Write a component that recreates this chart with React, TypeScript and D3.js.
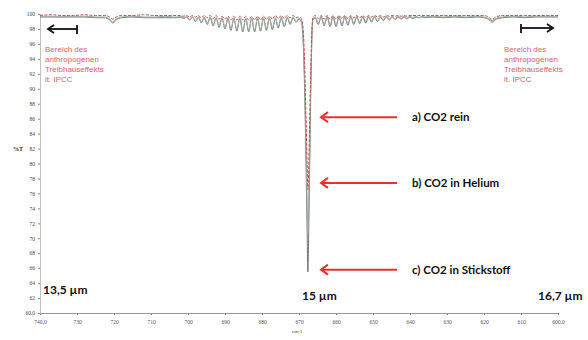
import React, { useRef, useEffect } from "react";
import * as d3 from "d3";

// wavenumber grid (cm-1): flat part, R-branch lines, Q dip, P-branch lines, flat part
const wavenumbers = [
  740, 737, 734, 731, 728, 725, 722.5, 721.2, 720.3, 719.4, 718, 715, 712, 709, 706, 704, 702.8,
  702.0, 701.2, 700.4, 699.6, 698.8, 698.0, 697.2, 696.4, 695.6, 694.8, 694.0, 693.2, 692.4, 691.6,
  690.8, 690.0, 689.2, 688.4, 687.6, 686.8, 686.0, 685.2, 684.4, 683.6, 682.8, 682.0, 681.2, 680.4,
  679.6, 678.8, 678.0, 677.2, 676.4, 675.6, 674.8, 674.0, 673.2, 672.4, 671.6, 670.8, 670.0,
  669.4, 669.0, 668.7, 668.4, 668.1, 667.8, 667.6, 667.4, 667.1, 666.8, 666.5, 666.2,
  665.6, 664.8, 664.0, 663.2, 662.4, 661.6, 660.8, 660.0, 659.2, 658.4, 657.6, 656.8, 656.0, 655.2,
  654.4, 653.6, 652.8, 652.0, 651.2, 650.4, 649.6, 648.8, 648.0, 647.2, 646.4, 645.6, 644.8, 644.0,
  643.2, 642.4, 641.6, 640.8, 640.0, 639.2, 638.4, 637.6, 636.8, 636.0,
  634, 631, 628, 625, 622, 620, 618.8, 617.8, 616.8, 615, 612, 609, 606, 603, 600,
];

// a) CO2 rein (%T)
const co2Rein = [
  99.8, 99.9, 99.8, 99.8, 99.9, 99.8, 99.8, 99.6, 99.3, 99.6, 99.8, 99.8, 99.9, 99.8, 99.8, 99.8, 99.8,
  99.8, 99.7, 99.8, 99.6, 99.8, 99.6, 99.8, 99.5, 99.8, 99.5, 99.8, 99.4, 99.8, 99.3,
  99.7, 99.3, 99.7, 99.2, 99.7, 99.2, 99.7, 99.2, 99.7, 99.2, 99.7, 99.2, 99.7, 99.2,
  99.7, 99.3, 99.7, 99.3, 99.8, 99.4, 99.8, 99.4, 99.8, 99.5, 99.8, 99.5, 99.6,
  99.4, 98.6, 96.5, 92.0, 86.0, 80.0, 76.5, 79.0, 86.0, 93.0, 98.0, 99.6,
  99.8, 99.4, 99.8, 99.3, 99.8, 99.3, 99.8, 99.3, 99.8, 99.4, 99.8, 99.4, 99.8, 99.5,
  99.8, 99.5, 99.8, 99.5, 99.8, 99.6, 99.8, 99.6, 99.8, 99.6, 99.8, 99.7, 99.8, 99.7,
  99.8, 99.7, 99.8, 99.7, 99.8, 99.8, 99.8, 99.8, 99.8, 99.8,
  99.8, 99.8, 99.8, 99.8, 99.8, 99.8, 99.6, 99.3, 99.6, 99.8, 99.8, 99.8, 99.8, 99.8, 99.8,
];

// b) CO2 in Helium (%T)
const co2Helium = [
  99.7, 99.7, 99.6, 99.7, 99.7, 99.6, 99.6, 99.3, 98.9, 99.3, 99.6, 99.7, 99.6, 99.6, 99.7, 99.6, 99.6,
  99.7, 99.5, 99.6, 99.3, 99.6, 99.1, 99.6, 98.9, 99.6, 98.8, 99.6, 98.6, 99.5, 98.4,
  99.5, 98.2, 99.5, 98.0, 99.5, 97.9, 99.5, 97.8, 99.5, 97.8, 99.5, 97.8, 99.5, 97.9,
  99.5, 98.0, 99.5, 98.1, 99.5, 98.3, 99.6, 98.5, 99.6, 98.8, 99.6, 99.0, 99.4,
  99.1, 98.0, 95.0, 90.0, 83.0, 75.0, 70.5, 74.0, 83.0, 92.0, 97.5, 99.4,
  99.6, 98.8, 99.7, 98.6, 99.7, 98.5, 99.7, 98.5, 99.7, 98.6, 99.7, 98.7, 99.7, 98.8,
  99.7, 98.9, 99.7, 99.0, 99.7, 99.1, 99.7, 99.1, 99.7, 99.2, 99.7, 99.3, 99.7, 99.3,
  99.7, 99.4, 99.7, 99.4, 99.7, 99.5, 99.7, 99.5, 99.7, 99.6,
  99.7, 99.6, 99.7, 99.6, 99.7, 99.6, 99.4, 99.1, 99.4, 99.6, 99.7, 99.6, 99.7, 99.7, 99.7,
];

// c) CO2 in Stickstoff (%T)
const co2Stickstoff = [
  99.6, 99.6, 99.6, 99.6, 99.6, 99.5, 99.5, 99.2, 98.8, 99.2, 99.5, 99.6, 99.5, 99.5, 99.5, 99.5, 99.5,
  99.6, 99.4, 99.6, 99.2, 99.6, 99.0, 99.6, 98.8, 99.5, 98.6, 99.5, 98.4, 99.5, 98.2,
  99.5, 98.0, 99.4, 97.8, 99.4, 97.7, 99.4, 97.6, 99.4, 97.6, 99.4, 97.6, 99.4, 97.7,
  99.4, 97.8, 99.4, 97.9, 99.4, 98.1, 99.5, 98.3, 99.5, 98.6, 99.5, 98.9, 99.3,
  99.0, 97.5, 94.0, 88.0, 80.0, 71.0, 65.5, 70.0, 80.0, 90.0, 97.0, 99.3,
  99.5, 98.6, 99.6, 98.4, 99.6, 98.3, 99.6, 98.3, 99.6, 98.4, 99.6, 98.5, 99.6, 98.6,
  99.6, 98.7, 99.6, 98.8, 99.6, 98.9, 99.6, 99.0, 99.6, 99.1, 99.6, 99.2, 99.6, 99.3,
  99.6, 99.3, 99.6, 99.4, 99.6, 99.4, 99.6, 99.5, 99.6, 99.5,
  99.6, 99.5, 99.6, 99.5, 99.6, 99.5, 99.3, 98.9, 99.3, 99.5, 99.6, 99.5, 99.6, 99.6, 99.6,
];

const xTicks = [740, 730, 720, 710, 700, 690, 680, 670, 660, 650, 640, 630, 620, 610, 600];
const yTicks = [100, 98, 96, 94, 92, 90, 88, 86, 84, 82, 80, 78, 76, 74, 72, 70, 68, 66, 64, 62, 60];

// labels with the %T level their red arrow points at
const arrowLabels = ["a) CO2 rein", "b) CO2 in Helium", "c) CO2 in Stickstoff"];
const arrowLevels = [86.2, 77.4, 65.8];

const rangeText = ["Bereich des", "anthropogenen", "Treibhauseffekts", "lt. IPCC"];
const micronLabels = ["13,5 µm", "15 µm", "16,7 µm"];

const App = () => {
  const svgRef = useRef(null);
  const width = 588;
  const height = 340;

  useEffect(() => {
    const svg = d3.select(svgRef.current);
    svg.selectAll("*").remove();

    const xScale = d3.scaleLinear().domain([740, 600]).range([40, 558]);
    const yScale = d3.scaleLinear().domain([60, 100]).range([313, 14]);

    // axes
    const xAxis = svg
      .append("g")
      .attr("transform", `translate(0, ${yScale(60)})`)
      .call(
        d3
          .axisBottom(xScale)
          .tickValues(xTicks)
          .tickSize(2)
          .tickPadding(5)
          .tickFormat((d) => (d === 740 || d === 600 ? `${d},0` : `${d}`))
      );
    xAxis.select(".domain").attr("stroke", "#9a9a9a");
    xAxis.selectAll(".tick line").attr("stroke", "#888");
    xAxis
      .selectAll("text")
      .attr("fill", "#555")
      .style("font-family", "'Liberation Serif', serif")
      .style("font-size", "5.5px");

    const yAxis = svg
      .append("g")
      .attr("transform", `translate(${xScale(740)}, 0)`)
      .call(
        d3
          .axisLeft(yScale)
          .tickValues(yTicks)
          .tickSize(2)
          .tickPadding(3)
          .tickFormat((d) => (d === 60 ? "60,0" : `${d}`))
      );
    yAxis.select(".domain").attr("stroke", "#b0b0b0").attr("stroke-width", 0.8);
    yAxis.selectAll(".tick line").attr("stroke", "#888");
    yAxis
      .selectAll("text")
      .attr("fill", "#444")
      .style("font-family", "'Liberation Serif', serif")
      .style("font-size", "5.5px");

    svg
      .append("text")
      .attr("x", xScale(670) - 7)
      .attr("y", yScale(60) + 20)
      .text("cm-1")
      .style("font-family", "'Liberation Serif', serif")
      .style("font-size", "5px")
      .attr("fill", "#444");

    svg
      .append("text")
      .attr("x", 13)
      .attr("y", yScale(82) + 2)
      .text("%T")
      .style("font-family", "'Liberation Serif', serif")
      .style("font-size", "6px")
      .style("font-weight", "bold")
      .attr("fill", "#333");

    // spectra
    const line = d3
      .line()
      .x((d) => xScale(d[0]))
      .y((d) => yScale(d[1]))
      .curve(d3.curveMonotoneX);

    const series = [
      { values: co2Stickstoff, color: "#5d675e", width: 0.9, dash: null },
      { values: co2Helium, color: "#a3ada3", width: 1.1, dash: null },
      { values: co2Rein, color: "#c0504d", width: 1, dash: "3,1.5" },
    ];
    series.forEach((s) => {
      svg
        .append("path")
        .datum(wavenumbers.map((w, i) => [w, s.values[i]]))
        .attr("fill", "none")
        .attr("stroke", s.color)
        .attr("stroke-width", s.width)
        .attr("stroke-dasharray", s.dash)
        .attr("d", line);
    });

    // IPCC range arrows
    const arrowG = svg.append("g").attr("stroke", "#111").attr("stroke-width", 1.8).attr("fill", "none");
    arrowG.append("line").attr("x1", 48).attr("x2", 77).attr("y1", 29).attr("y2", 29);
    arrowG.append("line").attr("x1", 77).attr("x2", 77).attr("y1", 25).attr("y2", 34);
    arrowG.append("polyline").attr("points", "54,25 48,29 54,33");
    arrowG.append("line").attr("x1", 521).attr("x2", 553).attr("y1", 28).attr("y2", 28);
    arrowG.append("line").attr("x1", 521).attr("x2", 521).attr("y1", 24).attr("y2", 33);
    arrowG.append("polyline").attr("points", "547,24 553,28 547,32");

    [45, 504].forEach((tx) => {
      svg
        .append("text")
        .attr("x", tx)
        .attr("y", 52)
        .style("font-family", "'Liberation Sans', Arial, sans-serif")
        .style("font-size", "8px")
        .attr("fill", "#e0606a")
        .selectAll("tspan")
        .data(rangeText)
        .join("tspan")
        .attr("x", tx)
        .attr("dy", (d, i) => (i === 0 ? 0 : 10))
        .text((d) => d);
    });

    // red arrows + labels
    arrowLabels.forEach((label, i) => {
      const yy = yScale(arrowLevels[i]);
      const g = svg.append("g").attr("stroke", "#e8302c").attr("stroke-width", 2).attr("fill", "none");
      g.append("line").attr("x1", 321).attr("x2", 397).attr("y1", yy).attr("y2", yy);
      g.append("polyline").attr("points", `328,${yy - 5} 321,${yy} 328,${yy + 5}`);
      svg
        .append("text")
        .attr("x", 412)
        .attr("y", yy + 4)
        .text(label)
        .style("font-family", "Lato, 'Open Sans', sans-serif")
        .style("font-weight", "bold")
        .style("font-size", "11.5px")
        .attr("fill", "#111");
    });

    // wavelength labels
    const micronPos = [
      [43, 294],
      [302, 300],
      [538, 300],
    ];
    micronLabels.forEach((label, i) => {
      svg
        .append("text")
        .attr("x", micronPos[i][0])
        .attr("y", micronPos[i][1])
        .text(label)
        .style("font-family", "Lato, 'Open Sans', sans-serif")
        .style("font-weight", "bold")
        .style("font-size", "12px")
        .attr("fill", "#111");
    });
  }, []);

  return (
    <svg
      ref={svgRef}
      width={width}
      height={height}
      style={{ position: "absolute", left: 0, top: 0, background: "#fff" }}
    />
  );
};

export default App;
